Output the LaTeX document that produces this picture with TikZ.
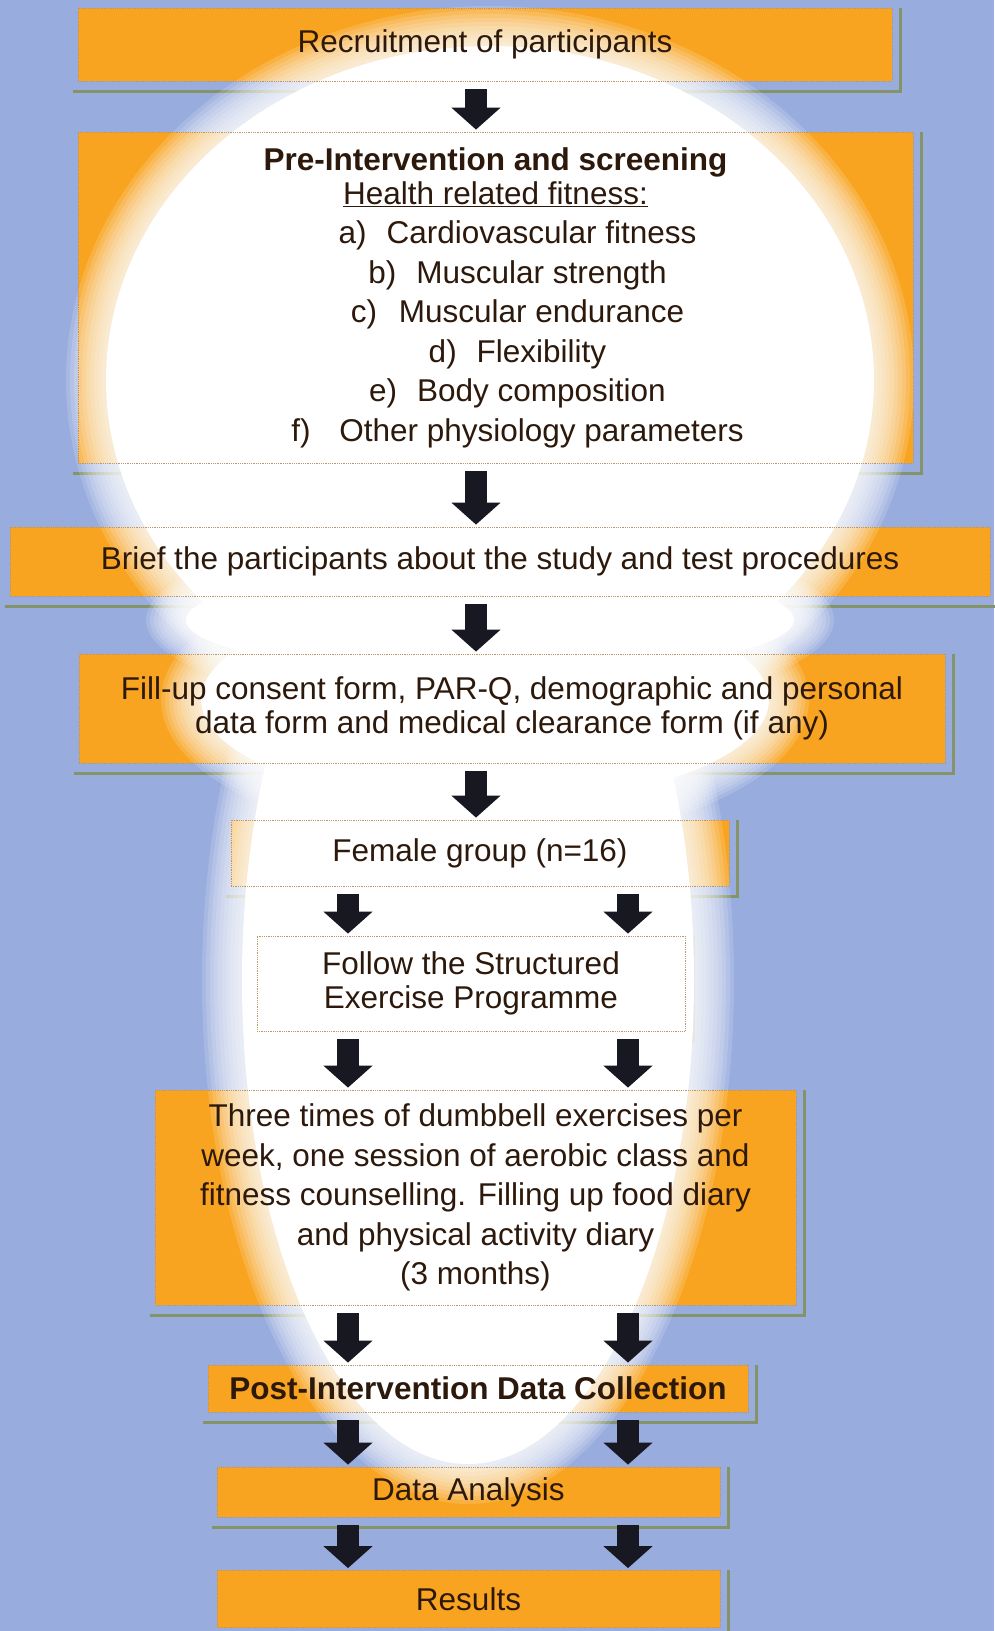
\documentclass[tikz,border=0pt]{standalone}
\usepackage{fontspec}
\setmainfont{Liberation Sans}
\usetikzlibrary{arrows.meta}

\definecolor{bgblue}{RGB}{152,172,222}
\definecolor{boxorange}{RGB}{248,164,32}
\definecolor{boxedge}{RGB}{185,150,110}
\definecolor{shadowgreen}{RGB}{132,148,104}
\definecolor{ink}{RGB}{45,25,12}
\definecolor{arrowink}{RGB}{24,24,34}

\pgfdeclarelayer{bg}
\pgfdeclarelayer{boxes}
\pgfdeclarelayer{glow}
\pgfsetlayers{bg,boxes,glow,main}

\newcommand{\fititem}[2]{\hspace*{44pt}\makebox[48pt][l]{#1)}#2}

\begin{document}
\begin{tikzpicture}[x=1pt, y=-1pt,
    stage/.style={draw=boxedge, densely dotted, line width=0.8pt, text=ink,
      align=center, inner sep=0pt, font=\fontsize{31.5}{39.5}\selectfont},
    tight/.style={font=\fontsize{31.5}{33.5}\selectfont},
    flow/.style={draw=arrowink, line width=22pt, shorten <=8pt, shorten >=2pt,
      -{Triangle[width=48pt,length=22pt]}},
    shadowline/.style={draw=shadowgreen, line width=3.5pt},
    glowring/.style={fill=white, opacity=0.15},
  ]
  \useasboundingbox (0,0) rectangle (994,1631);

  % Columns for the arrows
  \coordinate (colC) at (476,0);
  \coordinate (colL) at (348,0);
  \coordinate (colR) at (628,0);

  % Stages
  \node[stage, minimum width=814pt, minimum height=73pt] (rec) at (485,44.5)
    {Recruitment of participants};
  \node[stage, minimum width=835pt, minimum height=331pt] (pre) at (495.5,297.5)
    {\textbf{Pre-Intervention and screening}\\[-5.5pt]
     \underline{Health related fitness:}\\
     \fititem{a}{Cardiovascular fitness}\\
     \fititem{b}{Muscular strength}\\
     \fititem{c}{Muscular endurance}\\
     \fititem{d}{Flexibility}\\
     \fititem{e}{Body composition}\\
     \fititem{f}{Other physiology parameters}};
  \node[stage, minimum width=980pt, minimum height=69pt] (brief) at (500,561.5)
    {Brief the participants about the study and test procedures};
  \node[stage, tight, minimum width=866pt, minimum height=109pt] (consent) at (512,708.5)
    {Fill-up consent form, PAR-Q, demographic and personal\\
     data form and medical clearance form (if any)};
  \node[stage, minimum width=498pt, minimum height=66pt] (female) at (480,853)
    {Female group (n=16)};
  \node[stage, tight, minimum width=428pt, minimum height=95pt] (programme) at (471,983.5)
    {Follow the Structured\\Exercise Programme};
  \node[stage, minimum width=641pt, minimum height=215pt] (regime) at (475.5,1197.5)
    {Three times of dumbbell exercises per\\
     week, one session of aerobic class and\\
     fitness counselling. Filling up food diary\\
     and physical activity diary\\
     (3 months)};
  \node[stage, minimum width=540pt, minimum height=47pt] (postdata) at (478,1388.5)
    {\textbf{Post-Intervention Data Collection}};
  \node[stage, minimum width=503pt, minimum height=50pt] (analysis) at (468.5,1492)
    {Data Analysis};
  \node[stage, minimum width=503pt, minimum height=57pt] (results) at (468.5,1599)
    {Results};

  % Backdrop, box fills and shadows
  \begin{pgfonlayer}{bg}
    \fill[bgblue] (0,0) rectangle (994,1631);
  \end{pgfonlayer}
  \begin{pgfonlayer}{boxes}
    \foreach \n in {rec,pre,brief,consent,female,programme,regime,postdata,analysis,results} {
      \draw[shadowline] ([xshift=-5pt,yshift=-10pt]\n.south west) -| ([xshift=8pt]\n.north east);
      \fill[boxorange] (\n.south west) rectangle (\n.north east);
    }
  \end{pgfonlayer}

  % White glow over the middle
  \begin{pgfonlayer}{glow}
    \foreach \k in {1,...,10} {
      \fill[glowring] (490,380) ellipse ({384+4*\k} and {334+4*\k});
      \fill[glowring] (490,620) ellipse ({304+4*\k} and {54+4*\k});
      \fill[glowring] (485,700) ellipse ({284+4*\k} and {104+4*\k});
      \fill[glowring] (468,980) ellipse ({226+4*\k} and {484+4*\k});
    }
    \fill[white] (490,380) ellipse (384 and 334);
    \fill[white] (490,620) ellipse (304 and 54);
    \fill[white] (485,700) ellipse (284 and 104);
    \fill[white] (468,980) ellipse (226 and 484);
  \end{pgfonlayer}

  % Arrows
  \foreach \a/\b/\c in {rec/pre/colC, pre/brief/colC, brief/consent/colC,
      consent/female/colC, female/programme/colL, female/programme/colR,
      programme/regime/colL, programme/regime/colR, regime/postdata/colL,
      regime/postdata/colR, postdata/analysis/colL, postdata/analysis/colR,
      analysis/results/colL, analysis/results/colR}
    \draw[flow] (\a.south -| \c) -- (\b.north -| \c);
\end{tikzpicture}
\end{document}
